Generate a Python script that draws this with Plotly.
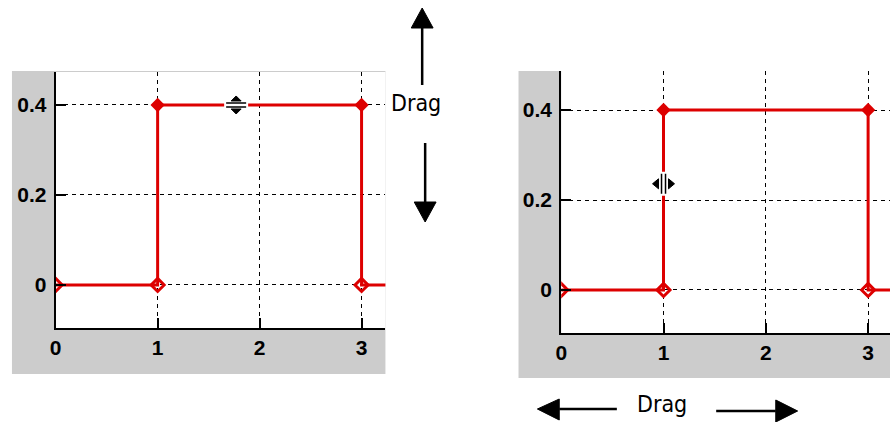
import plotly.graph_objects as go

# ---- data ----
step_x = [0, 1, 1, 3, 3, 3.3]
step_y = [0, 0, 0.4, 0.4, 0, 0]
top_pts_x = [1, 3]
top_pts_y = [0.4, 0.4]
bot_pts_x = [0, 1, 3]
bot_pts_y = [0, 0, 0]
x_ticks = [0, 1, 2, 3]
x_ticktext = ["0", "1", "2", "3"]
y_ticks = [0, 0.2, 0.4]
y_ticktext = ["0", "0.2", "0.4"]
drag_label = "Drag"

W, H = 890, 422
RED = "#dd0000"
GRAY = "#cccccc"


def px(x):
    return x / W


def py(y):
    return 1 - y / H


fig = go.Figure()
for i, ax in enumerate(["", "2"]):
    xr, yr = "x" + ax, "y" + ax
    fig.add_trace(go.Scatter(x=step_x, y=step_y, mode="lines", xaxis=xr, yaxis=yr,
                             line=dict(color=RED, width=3), showlegend=False, cliponaxis=True))
    fig.add_trace(go.Scatter(x=top_pts_x, y=top_pts_y, mode="markers", xaxis=xr, yaxis=yr,
                             marker=dict(symbol="diamond", size=11, color=RED), showlegend=False))
    fig.add_trace(go.Scatter(x=bot_pts_x, y=bot_pts_y, mode="markers", xaxis=xr, yaxis=yr,
                             marker=dict(symbol="diamond-open", size=10, color=RED,
                                         line=dict(width=3, color=RED)), showlegend=False))

tickfont = dict(family="Liberation Sans, Arial, sans-serif", size=21, color="black", weight="bold")
common_x = dict(tickmode="array", tickvals=x_ticks, ticktext=x_ticktext, showgrid=True,
                gridcolor="black", griddash="4px,4px", gridwidth=1, showline=True,
                linecolor="black", linewidth=2, ticks="inside", ticklen=10, tickcolor="black",
                tickwidth=1.5, tickfont=tickfont, zeroline=False, fixedrange=True)
common_y = dict(tickmode="array", tickvals=y_ticks, ticktext=y_ticktext, showgrid=True,
                gridcolor="black", griddash="4px,4px", gridwidth=1, showline=True,
                linecolor="black", linewidth=2, ticks="inside", ticklen=10, tickcolor="black",
                tickwidth=1.5, tickfont=tickfont, zeroline=False, fixedrange=True,
                ticklabelstandoff=3)

fig.update_layout(
    width=W, height=H, margin=dict(l=0, r=0, t=0, b=0),
    paper_bgcolor="white", plot_bgcolor="rgba(0,0,0,0)",
    xaxis=dict(domain=[px(50), px(382)], range=[0, 3.234], anchor="y", **common_x),
    yaxis=dict(domain=[py(328), py(72)], range=[-0.0956, 0.4733], anchor="x", **common_y),
    xaxis2=dict(domain=[px(559), 1.0], range=[0, 3.214], anchor="y2", **common_x),
    yaxis2=dict(domain=[py(333), py(71)], range=[-0.0956, 0.4867], anchor="x2", **common_y),
)

shapes = []
shapes.append(dict(type="rect", xref="paper", yref="paper", x0=px(6), x1=px(382), y0=py(374), y1=py(71),
                   fillcolor=GRAY, line=dict(width=0), layer="below"))
shapes.append(dict(type="rect", xref="paper", yref="paper", x0=px(516), x1=1.0, y0=py(378), y1=py(71),
                   fillcolor=GRAY, line=dict(width=0), layer="below"))
shapes.append(dict(type="rect", xref="paper", yref="paper", x0=px(50), x1=px(382), y0=py(328), y1=py(72),
                   fillcolor="white", line=dict(width=0), layer="below"))
shapes.append(dict(type="rect", xref="paper", yref="paper", x0=px(559), x1=1.0, y0=py(333), y1=py(71),
                   fillcolor="white", line=dict(width=0), layer="below"))


def tri(points):
    d = "M " + " L ".join(f"{px(a)},{py(b)}" for a, b in points) + " Z"
    return dict(type="path", xref="paper", yref="paper", path=d, fillcolor="black",
                line=dict(color="black", width=1))


def seg(x0, y0, x1, y1, w=2.5):
    return dict(type="line", xref="paper", yref="paper", x0=px(x0), y0=py(y0), x1=px(x1), y1=py(y1),
                line=dict(color="black", width=w))


shapes += [
    seg(419, 27, 419, 85), tri([(419, 8), (408, 28), (430, 28)]),
    seg(422, 143, 422, 202), tri([(411, 202), (433, 202), (422, 222)]),
    seg(557, 409, 615, 409), tri([(535, 409), (557, 399), (557, 420)]),
    seg(715, 411, 775, 411), tri([(797, 411), (775, 400), (775, 422)]),
]


def cur(xr, yr, xa, ya, pts=None, rect=None, line=None):
    base = dict(xref=xr, yref=yr, xsizemode="pixel", ysizemode="pixel", xanchor=xa, yanchor=ya)
    if rect:
        return dict(type="rect", x0=rect[0], x1=rect[1], y0=rect[2], y1=rect[3],
                    fillcolor="white", line=dict(width=0), **base)
    if line:
        return dict(type="line", x0=line[0], y0=line[1], x1=line[2], y1=line[3],
                    line=dict(color="black", width=1.5), **base)
    d = "M " + " L ".join(f"{a},{b}" for a, b in pts) + " Z"
    return dict(type="path", path=d, fillcolor="black", line=dict(color="black", width=1), **base)


xa1, ya1 = 1.77, 0.4
shapes += [
    cur("x", "y", xa1, ya1, rect=(-12, 12, -4, 4)),
    cur("x", "y", xa1, ya1, line=(-10, 2, 10, 2)),
    cur("x", "y", xa1, ya1, line=(-10, -2, 10, -2)),
    cur("x", "y", xa1, ya1, pts=[(0, 9), (-5, 4), (5, 4)]),
    cur("x", "y", xa1, ya1, pts=[(0, -9), (-5, -4), (5, -4)]),
]
xa2, ya2 = 1.0, 0.236
shapes += [
    cur("x2", "y2", xa2, ya2, rect=(-4, 4, -12, 12)),
    cur("x2", "y2", xa2, ya2, line=(-2, -10, -2, 10)),
    cur("x2", "y2", xa2, ya2, line=(2, -10, 2, 10)),
    cur("x2", "y2", xa2, ya2, pts=[(-11, 0), (-5, -5), (-5, 5)]),
    cur("x2", "y2", xa2, ya2, pts=[(11, 0), (5, -5), (5, 5)]),
]
fig.update_layout(shapes=shapes)

dragfont = dict(family="DejaVu Sans Condensed, Liberation Sans Narrow, Arial Narrow, sans-serif",
                size=23, color="black")
fig.add_annotation(x=px(413), y=py(103), xref="paper", yref="paper", text=drag_label,
                   showarrow=False, font=dragfont, xanchor="center", yanchor="middle")
fig.add_annotation(x=px(660), y=py(404), xref="paper", yref="paper", text=drag_label,
                   showarrow=False, font=dragfont, xanchor="center", yanchor="middle")

fig.write_html("out.html", config={"displayModeBar": False},
               post_script="document.body.style.margin='0';document.body.style.padding='0';"
                           "document.body.style.overflow='hidden';"
                           "document.documentElement.style.overflow='hidden';"
                           "var d=document.getElementById('{plot_id}');"
                           "d.style.position='absolute';d.style.left='0px';d.style.top='0px';")
